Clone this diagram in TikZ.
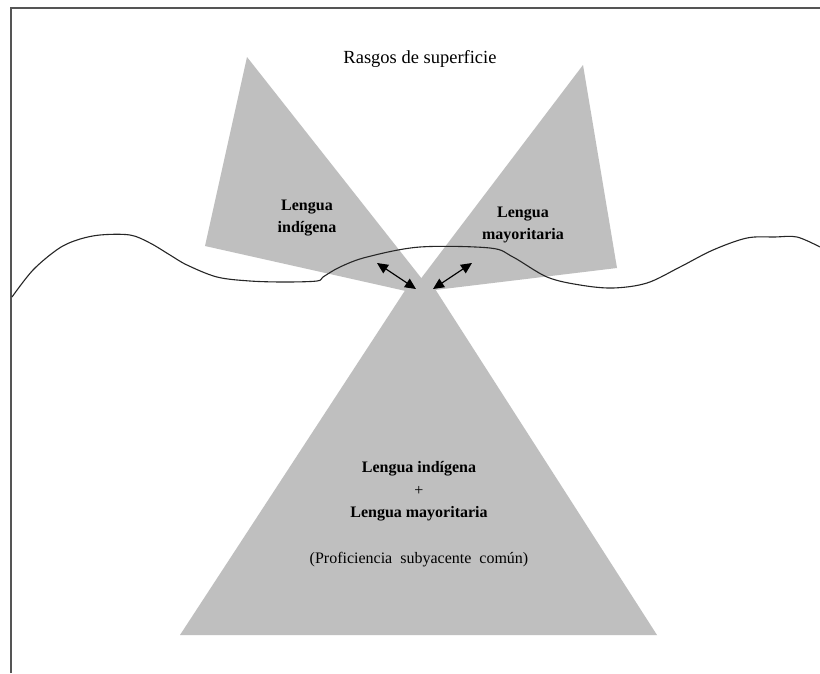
\documentclass[tikz,border=0pt]{standalone}
\usepackage{fontspec}
\setmainfont{Liberation Serif}
\usetikzlibrary{arrows.meta}
\definecolor{trigray}{RGB}{191,191,191}
\definecolor{framegray}{RGB}{85,85,85}
\begin{document}
\begin{tikzpicture}[x=1pt,y=-1pt,
  trishape/.style={fill=trigray,draw=none},
  framel/.style={draw=framegray,line width=1.5pt},
  wave/.style={draw=black!85,line width=1.1pt},
  dblarrow/.style={arrows={Triangle[length=11pt,width=10pt]-Triangle[length=11pt,width=10pt]},line width=1.2pt},
  titletxt/.style={font=\fontsize{18.5}{22}\selectfont,anchor=base,inner sep=0pt},
  lbl/.style={font=\fontsize{16}{19}\selectfont\bfseries,anchor=base,inner sep=0pt},
  reg/.style={font=\fontsize{16}{19}\selectfont,anchor=base,inner sep=0pt}]
\useasboundingbox (0,0) rectangle (820,673);
\fill[white] (0,0) rectangle (820,673);
% frame
\draw[framel] (11,673) -- (11,8) -- (820,8);
% triangles
\path[trishape] (247,57) -- (205,246) -- (437,298) -- cycle;
\path[trishape] (583,65) -- (617,268) -- (410,293) -- cycle;
\path[trishape] (180,635) -- (408.6,285) -- (421,279) -- (432.5,285) -- (657,635) -- cycle;
% wave line
\draw[wave] plot[smooth,tension=0.55] coordinates {(12,297) (33,270) (58,249) (77,240) (100,235) (130,235) (150,243) (170,255) (187,265) (217,277) (250,281) (285,282) (317,281) (323,277) (340,267) (367,257) (420,247) (490,248) (513,257) (547,277) (580,285) (613,288) (647,283) (680,267) (713,250) (747,238) (775,237) (797,237) (820,247)};
% arrows
\coordinate (la) at (377,263);
\coordinate (lb) at (416,289);
\coordinate (ra) at (472,263);
\coordinate (rb) at (433,289);
\draw[dblarrow] (la) -- (lb);
\draw[dblarrow] (ra) -- (rb);
% texts
\node[titletxt] (title) at (420,63) {Rasgos de superficie};
\node[lbl] (l1) at (307,210) {Lengua};
\node[lbl] (l2) at (307,232) {indígena};
\node[lbl] (r1) at (523,217) {Lengua};
\node[lbl] (r2) at (523,239) {mayoritaria};
\node[lbl] (m1) at (419,472) {Lengua indígena};
\node[reg] (m2) at (419,495) {+};
\node[lbl] (m3) at (419,517) {Lengua mayoritaria};
\node[reg] (m4) at (419,563) {(Proficiencia\ \ subyacente\ \ común)};
\end{tikzpicture}
\end{document}
